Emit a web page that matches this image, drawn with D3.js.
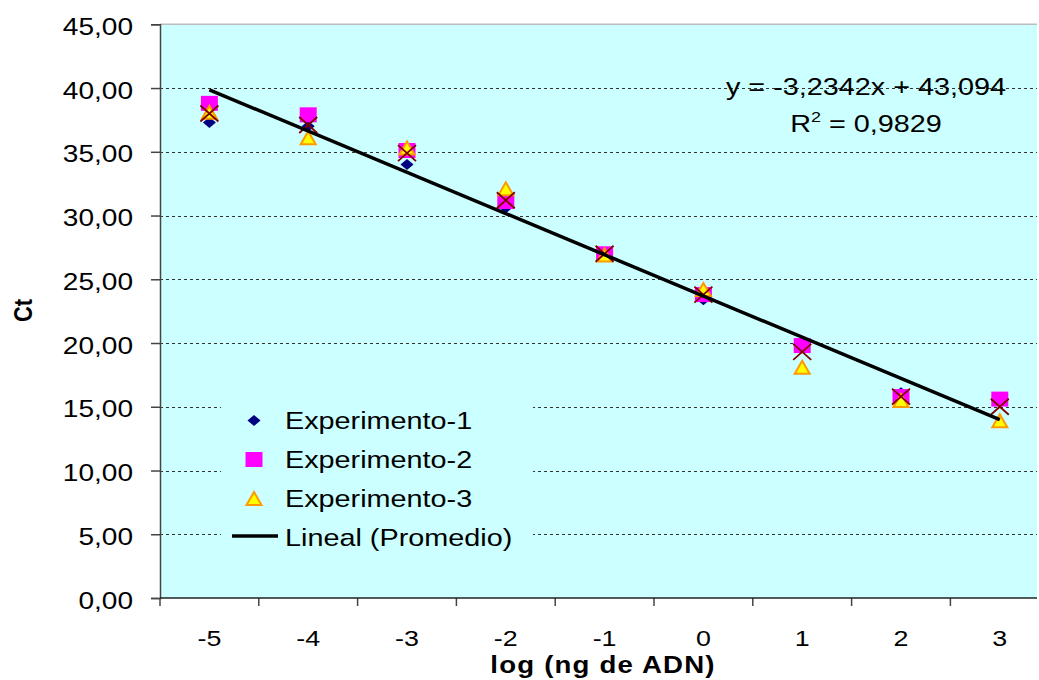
<!doctype html>
<html lang="es">

<head>
  <title>Curva estándar Ct vs log (ng de ADN)</title>
  <meta charset="utf-8" />
  <script src="https://d3js.org/d3.v7.min.js"></script>
  <style>
    body { margin: 0; background: #fff; }
    svg text { font-family: "Liberation Sans", Arial, sans-serif; fill: #000; }
  </style>
</head>

<body>
  <figure id="chart" style="margin:0"></figure>

  <script>
    // values
    const categories = ["-5", "-4", "-3", "-2", "-1", "0", "1", "2", "3"];
    const experimento1 = [37.3, 37.0, 34.0, 30.6, 27.1, 23.4, 19.9, 16.1, 15.5];
    const experimento2 = [38.8, 37.9, 35.1, 31.1, 27.0, 23.8, 19.8, 15.8, 15.6];
    const experimento3 = [38.1, 36.1, 35.3, 32.1, 26.9, 24.2, 18.1, 15.5, 13.9];
    const promedio = [38.0, 37.1, 34.9, 31.2, 27.0, 23.8, 19.3, 15.8, 15.0];
    const yTicks = [0, 5, 10, 15, 20, 25, 30, 35, 40, 45];
    const trendSlope = -3.2342;
    const trendIntercept = 43.094;
    const equationLabel = "y = -3,2342x + 43,094";
    const r2Label = "0,9829";
    const legendLabels = ["Experimento-1", "Experimento-2", "Experimento-3", "Lineal (Promedio)"];

    const params = {
      width: 1039,
      height: 680,
      left: 160,
      top: 24.3,
      bottom: 598,
      plotRight: 1037,
      band: 98.8,
      stretch: 1.22
    };

    const svg = d3.select("#chart").append("svg")
      .attr("width", params.width)
      .attr("height", params.height);

    const xScale = d3.scaleBand()
      .domain(categories)
      .range([params.left, params.left + params.band * categories.length]);

    const yScale = d3.scaleLinear()
      .domain([0, 45])
      .range([params.bottom, params.top]);

    const comma = d3.formatLocale({ decimal: ",", thousands: ".", grouping: [3], currency: ["", ""] });
    const fmt = comma.format(".2f");

    // plot area
    svg.append("rect")
      .attr("x", params.left)
      .attr("y", params.top)
      .attr("width", params.plotRight - params.left)
      .attr("height", params.bottom - params.top)
      .attr("fill", "#ccffff");

    svg.append("line")
      .attr("x1", params.left).attr("x2", params.plotRight)
      .attr("y1", params.top).attr("y2", params.top)
      .attr("stroke", "#bdbdbd").attr("stroke-width", 1.5);

    // dashed gridlines
    svg.append("g")
      .selectAll("line")
      .data(yTicks.filter(d => d > 0 && d < 45))
      .enter()
      .append("line")
      .attr("x1", params.left)
      .attr("x2", params.plotRight)
      .attr("y1", d => Math.round(yScale(d)) + 0.5)
      .attr("y2", d => Math.round(yScale(d)) + 0.5)
      .attr("stroke", "#333")
      .attr("stroke-width", 1)
      .attr("stroke-dasharray", "3,3");

    // y axis
    const yAxis = svg.append("g")
      .attr("transform", "translate(" + params.left + ",0)")
      .call(d3.axisLeft(yScale).tickValues(yTicks).tickSize(9).tickFormat(fmt));
    yAxis.select(".domain").attr("stroke", "#444").attr("stroke-width", 1.5);
    yAxis.selectAll(".tick line").attr("stroke", "#444").attr("stroke-width", 1.5);
    yAxis.selectAll(".tick text")
      .attr("x", 0)
      .attr("dy", "0.44em")
      .attr("transform", "translate(-27,0) scale(" + params.stretch + ",1)")
      .attr("text-anchor", "end")
      .style("font-size", "23px")
      .style("font-family", "'Liberation Sans', Arial, sans-serif")
      .attr("fill", "#000");

    // x axis: labels at band centres, ticks at band edges
    const xAxis = svg.append("g")
      .attr("transform", "translate(0," + params.bottom + ")")
      .call(d3.axisBottom(xScale).tickSize(0).tickSizeOuter(0));
    xAxis.select(".domain").remove();
    xAxis.selectAll(".tick text")
      .attr("y", 0)
      .attr("dy", 0)
      .attr("transform", "translate(0,48) scale(" + params.stretch + ",1)")
      .style("font-size", "22px")
      .style("font-family", "'Liberation Sans', Arial, sans-serif")
      .attr("fill", "#000");

    const edges = categories.map(c => xScale(c)).concat([xScale(categories[categories.length - 1]) + xScale.bandwidth()]);
    xAxis.selectAll("line.edge")
      .data(edges)
      .enter()
      .append("line")
      .attr("class", "edge")
      .attr("x1", d => d).attr("x2", d => d)
      .attr("y1", 0).attr("y2", 8)
      .attr("stroke", "#444").attr("stroke-width", 1.5);
    xAxis.append("line")
      .attr("x1", params.left).attr("x2", params.plotRight)
      .attr("y1", 0).attr("y2", 0)
      .attr("stroke", "#222").attr("stroke-width", 1.5);

    // marker shapes
    const cx = c => xScale(c) + xScale.bandwidth() / 2;
    const diamond = (x, y) => `M${x},${y - 5.5}L${x + 6.5},${y}L${x},${y + 5.5}L${x - 6.5},${y}Z`;
    const square = (x, y) => `M${x - 8.5},${y - 7.5}h17v15h-17Z`;
    const triangle = (x, y) => `M${x},${y - 6.5}L${x + 7.5},${y + 6.5}L${x - 7.5},${y + 6.5}Z`;
    const cross = (x, y) => `M${x - 9},${y - 8}L${x + 9},${y + 8}M${x - 9},${y + 8}L${x + 9},${y - 8}`;

    const series = [
      { values: experimento1, shape: diamond, fill: "#000080", stroke: "none", sw: 0 },
      { values: experimento2, shape: square, fill: "#ff00ff", stroke: "none", sw: 0 },
      { values: experimento3, shape: triangle, fill: "#ffff00", stroke: "#ff9900", sw: 2 },
      { values: promedio, shape: cross, fill: "none", stroke: "#800000", sw: 1.8 }
    ];

    series.forEach(s => {
      svg.append("g")
        .selectAll("path")
        .data(s.values)
        .enter()
        .append("path")
        .attr("d", (d, i) => s.shape(cx(categories[i]), yScale(d)))
        .attr("fill", s.fill)
        .attr("stroke", s.stroke)
        .attr("stroke-width", s.sw)
        .attr("stroke-linejoin", "miter");
    });

    // linear trend of the average (Excel uses the point index 1..n)
    const first = categories[0], last = categories[categories.length - 1];
    svg.append("line")
      .attr("x1", cx(first))
      .attr("y1", yScale(trendIntercept + trendSlope * 1))
      .attr("x2", cx(last))
      .attr("y2", yScale(trendIntercept + trendSlope * categories.length))
      .attr("stroke", "#000")
      .attr("stroke-width", 3.5)
      .attr("stroke-linecap", "butt");

    // equation labels
    svg.append("text")
      .attr("transform", "translate(866,95) scale(1.2,1)")
      .attr("text-anchor", "middle")
      .style("font-size", "24px")
      .text(equationLabel);

    const r2 = svg.append("text")
      .attr("transform", "translate(866,131.5) scale(1.2,1)")
      .attr("text-anchor", "middle")
      .style("font-size", "24px");
    r2.append("tspan").text("R");
    r2.append("tspan").attr("dy", -10).style("font-size", "15px").text("2");
    r2.append("tspan").attr("dy", 10).text(" = " + r2Label);

    // legend
    const legend = svg.append("g");
    legend.append("rect")
      .attr("x", 221).attr("y", 393)
      .attr("width", 312).attr("height", 170)
      .attr("fill", "#ccffff");

    const rowY = i => 420.5 + i * 39;
    const legendItems = legend.selectAll("g.item")
      .data(legendLabels)
      .enter()
      .append("g")
      .attr("class", "item");

    legendItems.each(function (label, i) {
      const g = d3.select(this);
      if (i < 3) {
        const s = series[i];
        g.append("path")
          .attr("d", s.shape(254, rowY(i)))
          .attr("fill", s.fill)
          .attr("stroke", s.stroke)
          .attr("stroke-width", s.sw);
      } else {
        g.append("line")
          .attr("x1", 232).attr("x2", 278)
          .attr("y1", rowY(i) - 1.5).attr("y2", rowY(i) - 1.5)
          .attr("stroke", "#000").attr("stroke-width", 3.5);
      }
      g.append("text")
        .attr("transform", "translate(285," + (rowY(i) + 8.8) + ") scale(1.2,1)")
        .style("font-size", "24px")
        .text(label);
    });

    // axis titles
    svg.append("text")
      .attr("transform", "translate(603,672.5) scale(1.2,1)")
      .attr("text-anchor", "middle")
      .style("font-size", "23px")
      .style("font-weight", "bold")
      .style("letter-spacing", "1px")
      .text("log (ng de ADN)");

    svg.append("text")
      .attr("transform", "translate(22.5,310.5) scale(1.2,1) rotate(-90)")
      .attr("text-anchor", "middle")
      .attr("dy", "0.36em")
      .style("font-size", "22px")
      .style("font-weight", "bold")
      .text("Ct");
  </script>

</body></html>
